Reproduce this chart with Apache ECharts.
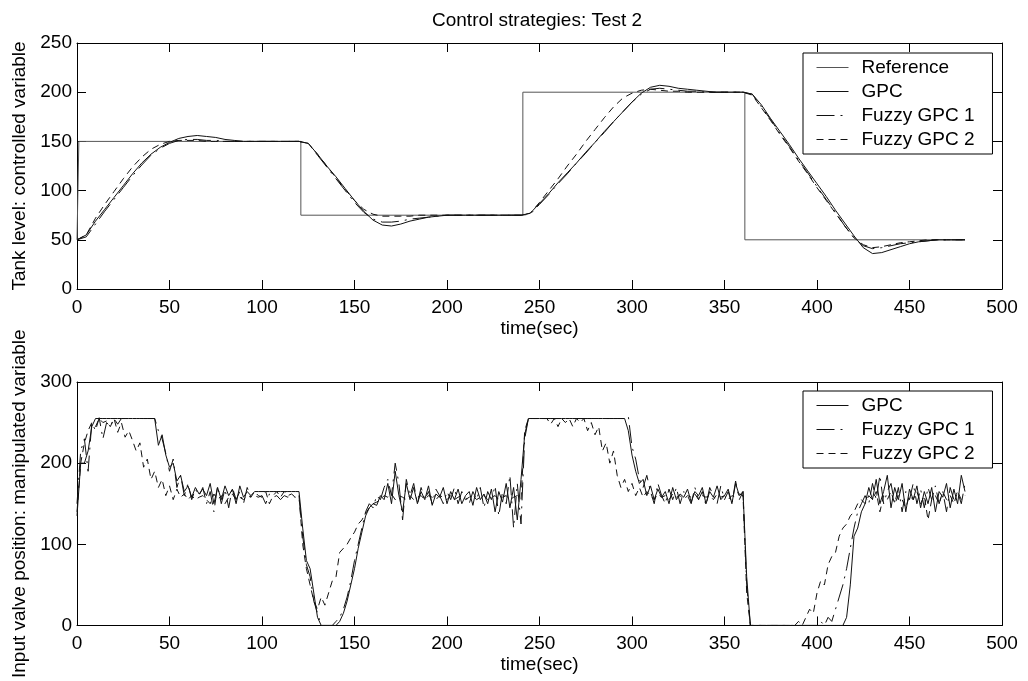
<!DOCTYPE html>
<html>
<head>
<meta charset="utf-8">
<script src="https://cdn.jsdelivr.net/npm/echarts@6/dist/echarts.min.js"></script>
<style>html,body{margin:0;padding:0;background:#fff}#main{width:1028px;height:681px}</style>
</head>
<body>
<div id="main"></div>
<script>
// upper plot: tank level, sampled every 5 s
var timeA = [0,5,10,15,20,25,30,35,40,45,50,55,60,65,70,75,80,85,90,95,
	100,105,110,115,120,125,130,135,140,145,150,155,160,165,170,175,180,185,190,195,
	200,205,210,215,220,225,230,235,240,245,250,255,260,265,270,275,280,285,290,295,
	300,305,310,315,320,325,330,335,340,345,350,355,360,365,370,375,380,385,390,395,
	400,405,410,415,420,425,430,435,440,445,450,455,460,465,470,475,480];
var refT = [0,1,1,121,121,241,241,361,361,480];
var refV = [50,50,150,150,75,75,200,200,50,50];
var gpcA = [50,55,69,81,93,105,117,128,137,144,149,153,155,156,155,154,152,151,150,150,150,150,150,150,150,
	148,137,125,114,102,90,79,70,65,64,66,69,71,73,74,75,75,75,75,75,75,75,75,75,
	77,87,97,108,118,128,139,149,160,170,180,190,199,205,207,206,204,203,202,201,200,200,200,200,
	198,187,173,160,147,133,120,107,94,80,67,54,42,36,37,40,43,46,48,49,50,50,50,50];
var fz1A = [50,53,66,79,91,103,115,126,136,143,148,151,152,152,151,151,150,150,150,150,150,150,150,150,150,
	148,136,124,112,100,88,78,71,68,68,69,71,72,73,74,75,75,75,75,75,75,75,75,75,
	76,86,96,107,117,128,138,149,159,170,180,190,198,203,204,203,202,201,201,200,200,200,200,200,
	198,185,172,158,145,131,118,104,91,78,64,52,44,41,42,44,46,47,48,49,50,50,50,50];
var fz2A = [50,55,72,86,99,112,124,134,142,147,150,151,151,151,150,150,150,150,150,150,150,150,150,150,150,
	148,137,125,113,101,90,81,76,74,74,74,74,75,75,75,75,75,75,75,75,75,75,75,75,
	77,88,100,112,125,137,150,162,174,185,194,199,202,203,202,201,201,200,200,200,200,200,200,200,
	197,184,171,157,144,130,117,103,90,77,64,52,45,42,43,45,47,48,49,50,50,50,50,50];

// lower plot: valve position, sampled every 2 s
var timeB = [0,2,4,6,8,10,12,14,16,18,20,22,24,26,28,30,32,34,36,38,
	40,42,44,46,48,50,52,54,56,58,60,62,64,66,68,70,72,74,76,78,
	80,82,84,86,88,90,92,94,96,98,100,102,104,106,108,110,112,114,116,118,
	120,122,124,126,128,130,132,134,136,138,140,142,144,146,148,150,152,154,156,158,
	160,162,164,166,168,170,172,174,176,178,180,182,184,186,188,190,192,194,196,198,
	200,202,204,206,208,210,212,214,216,218,220,222,224,226,228,230,232,234,236,238,
	240,242,244,246,248,250,252,254,256,258,260,262,264,266,268,270,272,274,276,278,
	280,282,284,286,288,290,292,294,296,298,300,302,304,306,308,310,312,314,316,318,
	320,322,324,326,328,330,332,334,336,338,340,342,344,346,348,350,352,354,356,358,
	360,362,364,366,368,370,372,374,376,378,380,382,384,386,388,390,392,394,396,398,
	400,402,404,406,408,410,412,414,416,418,420,422,424,426,428,430,432,434,436,438,
	440,442,444,446,448,450,452,454,456,458,460,462,464,466,468,470,472,474,476,478,480];
var gpcB = [135,200,200,215,245,255,255,255,255,255, 255,255,255,255,255,255,255,255,255,255,
	255,255,222,235,210,195,200,178,185,165, 172,158,170,162,168,160,175,150,170,155,
	172,160,168,150,172,158,165,160,165,165, 165,165,165,165,165,165,165,165,165,165,
	165,120,80,70,40,10,0,0,0,0, 0,5,15,30,50,70,95,115,135,145,
	150,148,160,155,175,150,190,160,140,175, 155,170,150,165,155,172,148,162,158,170,
	150,165,155,168,150,160,165,148,170,155, 162,150,168,140,165,152,175,145,170,130,
	180,235,255,255,255,255,255,255,255,255, 255,255,255,255,255,255,255,255,255,255,
	255,255,255,255,255,255,255,255,255,240, 210,190,175,180,160,172,155,168,158,165,
	150,170,155,162,158,168,152,165,160,170, 150,165,158,172,155,160,168,150,175,160,
	165,60,0,0,0,0,0,0,0,0, 0,0,0,0,0,0,0,0,0,0,
	0,0,0,0,0,0,0,0,10,50, 110,120,140,150,170,155,180,150,165,185,
	145,170,155,175,140,168,155,172,145,165, 150,170,140,165,158,175,145,168,150,185, 165];
var fz1B = [150,215,230,190,250,240,256,230,250,245, 255,248,255,255,255,255,255,255,255,255,
	255,255,240,230,212,190,205,170,185,160, 175,155,168,160,170,150,165,140,172,150,
	168,145,170,155,165,150,170,158,160,158, 160,150,162,158,160,155,160,158,160,158,
	158,110,75,60,30,15,0,0,0,0, 5,10,20,35,55,80,100,120,140,150,
	145,160,155,170,180,160,200,175,130,180, 160,175,150,170,155,165,150,168,160,150,
	165,155,170,150,165,158,150,165,155,170, 145,165,155,172,135,165,150,185,120,175,
	125,230,255,255,255,255,255,255,255,255, 255,255,255,255,255,255,255,255,255,255,
	255,255,255,255,255,255,255,255,255,258, 220,205,180,170,185,165,150,175,160,150,
	168,155,170,150,165,160,150,170,155,165, 148,170,160,150,172,155,165,150,178,155,
	165,50,0,0,0,0,0,0,0,0, 0,0,0,0,0,0,0,0,0,0,
	0,5,0,10,5,20,35,50,70,95, 120,140,150,160,150,175,155,185,150,165,
	175,150,170,140,165,155,175,150,168,145, 170,155,172,150,165,140,170,155,165,150, 175];
var fz2B = [140,200,225,240,250,245,255,250,252,245, 255,238,250,232,240,228,215,225,195,205,
	180,190,170,180,160,172,155,168,158,162, 155,160,155,158,160,155,150,162,155,160,
	150,158,162,155,158,155,160,158,165,160, 158,165,150,160,165,158,165,160,162,158,
	160,100,70,50,30,20,35,25,40,55, 60,90,95,100,108,115,125,130,138,145,
	150,152,155,160,158,162,155,160,158,155, 160,155,158,160,155,160,158,155,160,158,
	155,160,155,158,160,155,158,160,155,158, 160,155,158,160,155,158,160,155,158,160,
	155,240,255,255,255,255,255,255,248,255, 245,255,250,255,245,255,250,255,240,250,
	235,245,215,225,200,215,185,170,180,165, 175,160,170,158,165,160,155,162,158,160,
	155,162,158,160,155,160,158,162,155,160, 158,160,155,162,158,160,155,160,158,162,
	160,40,0,0,0,0,0,0,0,0, 0,0,0,0,0,5,0,10,20,15,
	40,55,50,75,85,90,110,120,125,135, 140,150,155,150,160,155,165,140,160,155,
	165,150,160,155,145,160,155,165,150,160, 130,155,160,150,165,155,160,150,165,155, 160];

var font = 'Liberation Sans, Arial, sans-serif';

function pairs(t, v) {
	return t.map(function (x, i) { return [x, v[i]]; });
}

// MATLAB style axis: ticks inside, box drawn by the extra top/right axes
function xAx(grid, pos, name) {
	return {
		type: 'value', gridIndex: grid, position: pos,
		min: 0, max: 500, interval: 50,
		axisLine: {show: true, onZero: false, lineStyle: {color: '#000', width: 1}},
		axisTick: {show: true, inside: true, length: 9, lineStyle: {color: '#000'}},
		axisLabel: {show: pos == 'bottom', color: '#000', fontSize: 19, fontFamily: font, margin: 9},
		splitLine: {show: false},
		name: name, nameLocation: 'middle', nameGap: 30,
		nameTextStyle: {color: '#000', fontSize: 19, fontFamily: font}
	};
}
function yAx(grid, pos, max, step, name) {
	return {
		type: 'value', gridIndex: grid, position: pos,
		min: 0, max: max, interval: step,
		axisLine: {show: true, onZero: false, lineStyle: {color: '#000', width: 1}},
		axisTick: {show: true, inside: true, length: 9, lineStyle: {color: '#000'}},
		axisLabel: {show: pos == 'left', color: '#000', fontSize: 19, fontFamily: font, margin: 5},
		splitLine: {show: false},
		name: name, nameLocation: 'middle', nameGap: 46,
		nameTextStyle: {color: '#000', fontSize: 19, fontFamily: font}
	};
}
function legendBox(names, top) {
	return {
		data: names, orient: 'vertical', left: 803, top: top,
		padding: [5, 18, 5, 13], itemGap: 5, itemWidth: 32, itemHeight: 14,
		backgroundColor: '#fff', borderColor: '#000', borderWidth: 1, borderRadius: 0,
		itemStyle: {opacity: 0},   // hide the marker dot, keep the line sample
		lineStyle: {width: 1},
		textStyle: {color: '#000', fontSize: 19, fontFamily: font, padding: [0, 0, 0, 8]}
	};
}
function line(name, data, xi, dash, color) {
	return {
		name: name, type: 'line', xAxisIndex: xi, yAxisIndex: xi,
		data: data, symbol: 'none', silent: true,
		itemStyle: {color: color || '#111'},
		lineStyle: {color: color || '#111', width: 1, type: dash || 'solid'}
	};
}

var myChart = echarts.init(document.getElementById('main'));
var option = {
	animation: false,
	backgroundColor: '#fff',
	textStyle: {fontFamily: font},
	title: {
		text: 'Control strategies: Test 2', left: 432, top: 11, padding: 0,
		textStyle: {color: '#000', fontSize: 19, fontWeight: 'normal', fontFamily: font}
	},
	legend: [
		legendBox(['Reference', 'GPC', 'Fuzzy GPC 1', 'Fuzzy GPC 2'], 53),
		legendBox(['GPC', 'Fuzzy GPC 1', 'Fuzzy GPC 2'], 391)
	],
	grid: [
		{left: 77, top: 43, width: 925, height: 246},
		{left: 77, top: 382, width: 925, height: 245}
	],
	xAxis: [xAx(0, 'bottom', 'time(sec)'), xAx(0, 'top', ''), xAx(1, 'bottom', 'time(sec)'), xAx(1, 'top', '')],
	yAxis: [
		yAx(0, 'left', 250, 50, 'Tank level: controlled variable'), yAx(0, 'right', 250, 50, ''),
		yAx(1, 'left', 300, 100, 'Input valve position: manipulated variable'), yAx(1, 'right', 300, 100, '')
	],
	series: [
		line('Reference', pairs(refT, refV), 0, 'solid', '#555'),
		line('GPC', pairs(timeA, gpcA), 0),
		line('Fuzzy GPC 1', pairs(timeA, fz1A), 0, [18, 6, 2, 6]),
		line('Fuzzy GPC 2', pairs(timeA, fz2A), 0, [7, 5]),
		line('GPC', pairs(timeB, gpcB), 2),
		line('Fuzzy GPC 1', pairs(timeB, fz1B), 2, [18, 6, 2, 6]),
		line('Fuzzy GPC 2', pairs(timeB, fz2B), 2, [7, 5])
	]
};
myChart.setOption(option);
</script>
</body>
</html>
